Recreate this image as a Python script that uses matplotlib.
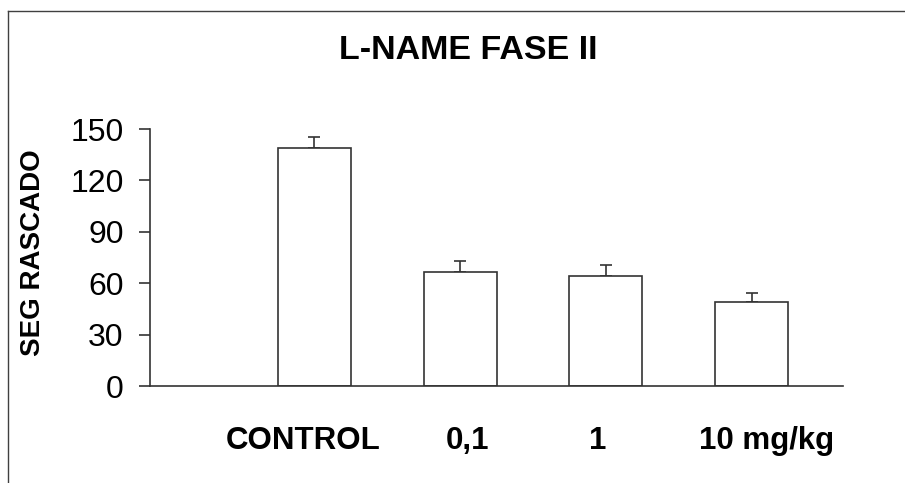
import matplotlib
matplotlib.use("Agg")
import matplotlib.pyplot as plt
from matplotlib.lines import Line2D

# values
groups = ["CONTROL", "0,1", "1", "10 mg/kg"]
means = [138.7, 66.7, 64.2, 49.2]
sem = [6.8, 6.4, 6.3, 4.9]
yticks = [0, 30, 60, 90, 120, 150]

plt.rcParams["font.family"] = ["Liberation Sans", "DejaVu Sans"]

fig = plt.figure(figsize=(9.05, 4.83), dpi=100)
ax = fig.add_axes([0.1657, 0.2008, 0.7657, 0.5321])

pos = list(range(len(groups)))
ax.bar(pos, means, width=0.5, color="white", edgecolor="#333333",
       linewidth=1.2, zorder=2)
ax.errorbar(pos, means, yerr=[[0] * len(sem), sem], fmt="none",
            ecolor="#333333", elinewidth=1.2, capsize=4, capthick=1.2,
            zorder=1)

ax.set_xlim(-1.129, 3.627)
ax.set_ylim(0, 150)
ax.set_yticks(yticks)
ax.set_yticklabels([str(v) for v in yticks], fontsize=23)
ax.tick_params(axis="y", length=8, width=1.2, color="#333333", pad=11)

# group labels sit a bit off the bar centres in the original
label_x = [-0.079, 1.048, 1.942, 3.106]
ax.set_xticks(label_x)
ax.set_xticklabels(groups, fontsize=22.5, fontweight="bold")
ax.tick_params(axis="x", length=0, pad=29)

for s in ["top", "right"]:
    ax.spines[s].set_visible(False)
for s in ["left", "bottom"]:
    ax.spines[s].set_color("#333333")
    ax.spines[s].set_linewidth(1.2)

ax.set_ylabel("SEG RASCADO", fontsize=20, fontweight="bold")
ax.yaxis.set_label_coords(-0.150, 0.519)

fig.text(0.517, 0.895, "L-NAME FASE II", fontsize=24.5, fontweight="bold",
         ha="center", va="center")

# frame lines at top and left of the image
fig.add_artist(Line2D([8 / 905, 1], [1 - 11 / 483, 1 - 11 / 483],
                      transform=fig.transFigure, color="#404040", lw=1))
fig.add_artist(Line2D([8 / 905, 8 / 905], [0, 1 - 11 / 483],
                      transform=fig.transFigure, color="#404040", lw=1))

fig.savefig("out.png", dpi=100)
